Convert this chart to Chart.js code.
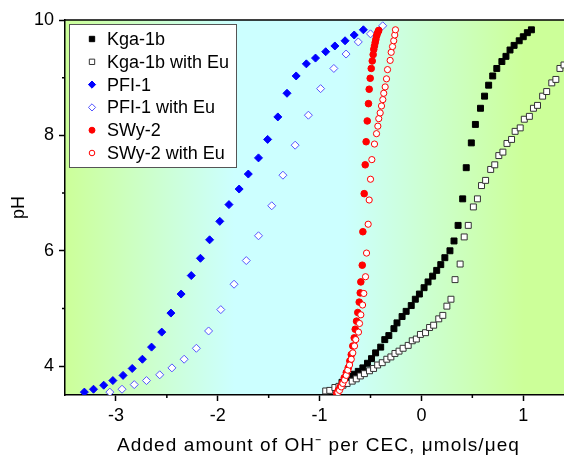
<!DOCTYPE html>
<html>
<head>
<meta charset="utf-8">
<script src="https://cdn.jsdelivr.net/npm/chart.js@4.4.1/dist/chart.umd.min.js"></script>
<style>
  html, body { margin: 0; padding: 0; background: #fff; }
</style>
</head>
<body>
<canvas id="c" width="564" height="459"></canvas>
<script>
// [added OH- per CEC, pH]
const kga1b = [[-0.78,3.72],[-0.74,3.77],[-0.70,3.82],[-0.66,3.86],[-0.62,3.91],[-0.575,3.97],[-0.53,4.05],[-0.49,4.13],[-0.45,4.23],[-0.40,4.33],[-0.36,4.46],[-0.32,4.53],[-0.27,4.65],[-0.24,4.75],[-0.19,4.86],[-0.15,4.95],[-0.10,5.05],[-0.06,5.16],[-0.02,5.25],[0.026,5.36],[0.065,5.46],[0.11,5.56],[0.15,5.66],[0.19,5.76],[0.23,5.88],[0.28,6.00],[0.32,6.17],[0.36,6.44],[0.405,6.90],[0.44,7.44],[0.49,7.87],[0.53,8.19],[0.58,8.47],[0.62,8.68],[0.66,8.87],[0.70,9.03],[0.74,9.16],[0.79,9.28],[0.83,9.37],[0.87,9.48],[0.91,9.56],[0.96,9.64],[1.00,9.71],[1.04,9.78],[1.08,9.83]];
const kga1bEu = [[-0.94,3.57],[-0.90,3.58],[-0.85,3.63],[-0.81,3.65],[-0.77,3.67],[-0.73,3.70],[-0.68,3.74],[-0.64,3.78],[-0.60,3.83],[-0.56,3.87],[-0.51,3.92],[-0.47,3.96],[-0.43,4.02],[-0.385,4.06],[-0.34,4.12],[-0.30,4.16],[-0.26,4.22],[-0.22,4.26],[-0.18,4.31],[-0.13,4.36],[-0.09,4.44],[-0.05,4.47],[-0.01,4.55],[0.04,4.58],[0.08,4.67],[0.12,4.71],[0.17,4.82],[0.21,4.88],[0.25,5.04],[0.29,5.16],[0.33,5.50],[0.38,5.77],[0.42,6.24],[0.46,6.44],[0.51,6.76],[0.55,6.90],[0.59,7.13],[0.63,7.22],[0.68,7.41],[0.72,7.49],[0.76,7.65],[0.80,7.71],[0.84,7.86],[0.885,7.93],[0.92,8.07],[0.97,8.13],[1.01,8.28],[1.06,8.33],[1.10,8.47],[1.14,8.52],[1.19,8.68],[1.23,8.76],[1.28,8.91],[1.32,8.97],[1.36,9.16],[1.40,9.22]];
const pfi1 = [[-3.31,3.55],[-3.22,3.60],[-3.12,3.67],[-3.03,3.75],[-2.93,3.84],[-2.84,3.96],[-2.74,4.12],[-2.65,4.33],[-2.55,4.59],[-2.46,4.92],[-2.36,5.25],[-2.26,5.57],[-2.17,5.87],[-2.08,6.19],[-1.98,6.51],[-1.89,6.80],[-1.79,7.07],[-1.70,7.33],[-1.60,7.61],[-1.51,7.93],[-1.41,8.32],[-1.32,8.73],[-1.23,9.03],[-1.13,9.24],[-1.04,9.34],[-0.94,9.45],[-0.85,9.55],[-0.75,9.64],[-0.66,9.74],[-0.57,9.83]];
const pfi1Eu = [[-3.06,3.55],[-2.94,3.60],[-2.82,3.68],[-2.70,3.75],[-2.57,3.85],[-2.45,3.97],[-2.33,4.12],[-2.21,4.31],[-2.09,4.61],[-1.97,4.98],[-1.84,5.42],[-1.72,5.83],[-1.60,6.26],[-1.47,6.78],[-1.36,7.31],[-1.24,7.83],[-1.11,8.35],[-0.99,8.81],[-0.86,9.16],[-0.74,9.41],[-0.62,9.62],[-0.50,9.76],[-0.38,9.90]];
const swy2 = [[-0.833,3.53],[-0.817,3.58],[-0.797,3.64],[-0.777,3.71],[-0.758,3.80],[-0.738,3.89],[-0.719,3.97],[-0.703,4.09],[-0.689,4.20],[-0.674,4.35],[-0.660,4.49],[-0.650,4.64],[-0.637,4.78],[-0.625,4.93],[-0.611,5.11],[-0.601,5.27],[-0.595,5.46],[-0.581,5.75],[-0.575,6.33],[-0.562,6.99],[-0.552,7.49],[-0.543,7.89],[-0.532,8.25],[-0.520,8.55],[-0.513,8.80],[-0.503,8.99],[-0.493,9.16],[-0.483,9.29],[-0.474,9.40],[-0.468,9.49],[-0.461,9.55],[-0.454,9.61],[-0.448,9.66],[-0.441,9.72],[-0.434,9.76],[-0.425,9.80],[-0.419,9.82]];
const swy2Eu = [[-0.821,3.54],[-0.804,3.58],[-0.787,3.64],[-0.772,3.70],[-0.755,3.76],[-0.738,3.84],[-0.723,3.93],[-0.706,4.02],[-0.689,4.12],[-0.674,4.23],[-0.657,4.35],[-0.645,4.46],[-0.618,4.59],[-0.608,4.74],[-0.595,4.89],[-0.578,5.06],[-0.566,5.26],[-0.549,5.55],[-0.539,5.96],[-0.523,6.46],[-0.513,6.88],[-0.500,7.24],[-0.487,7.58],[-0.461,7.85],[-0.441,8.03],[-0.428,8.16],[-0.419,8.29],[-0.405,8.39],[-0.392,8.51],[-0.379,8.62],[-0.370,8.73],[-0.356,8.84],[-0.343,8.98],[-0.333,9.14],[-0.307,9.30],[-0.297,9.44],[-0.284,9.54],[-0.272,9.64],[-0.262,9.74],[-0.255,9.83]];

const seriesNames = ['Kga-1b', 'Kga-1b with Eu', 'PFI-1', 'PFI-1 with Eu', 'SWy-2', 'SWy-2 with Eu'];
const xMajor = [-3, -2, -1, 0, 1];
const xMinor = [-2.5, -1.5, -0.5, 0.5];
const yMajor = [4, 6, 8, 10];
const yMinor = [5, 7, 9];
const xTitle = 'Added amount of OH⁻ per CEC, μmols/μeq';

const FONT = '"Liberation Sans", Arial, sans-serif';
Chart.defaults.font.family = FONT;
Chart.defaults.color = '#000';

const toPts = arr => arr.map(p => ({x: p[0], y: p[1]}));

function marker(ctx, style, x, y, r) {
    ctx.beginPath();
    if (style === 'rect') {
        const s = Math.SQRT1_2 * r;
        ctx.rect(x - s, y - s, 2 * s, 2 * s);
    } else if (style === 'rectRot') {
        ctx.moveTo(x - r, y);
        ctx.lineTo(x, y - r);
        ctx.lineTo(x + r, y);
        ctx.lineTo(x, y + r);
        ctx.closePath();
    } else {
        ctx.arc(x, y, r, 0, Math.PI * 2);
    }
    ctx.fill();
    ctx.stroke();
}

const bgPlugin = {
    id: 'bg',
    beforeDraw(chart) {
        const {ctx, chartArea: a} = chart;
        const g = ctx.createLinearGradient(a.left, 0, a.right, 0);
        g.addColorStop(0, '#ccff99');
        g.addColorStop(0.34, '#ccffff');
        g.addColorStop(0.56, '#ccffff');
        g.addColorStop(0.92, '#ccff99');
        g.addColorStop(1, '#ccff99');
        ctx.save();
        ctx.fillStyle = g;
        ctx.fillRect(a.left, a.top, a.right - a.left, a.bottom - a.top);
        ctx.restore();
    }
};

// minor ticks, top frame line, x title (letter-spaced) and the boxed legend
const extrasPlugin = {
    id: 'extras',
    afterDraw(chart) {
        const {ctx, chartArea: a, scales} = chart;
        ctx.save();
        ctx.strokeStyle = '#000';
        ctx.lineWidth = 1.5;
        ctx.beginPath();
        ctx.moveTo(a.left, a.top);
        ctx.lineTo(a.right, a.top);
        xMinor.forEach(v => {
            const px = scales.x.getPixelForValue(v);
            ctx.moveTo(px, a.bottom);
            ctx.lineTo(px, a.bottom + 3);
        });
        yMinor.forEach(v => {
            const py = scales.y.getPixelForValue(v);
            ctx.moveTo(a.left, py);
            ctx.lineTo(a.left - 3, py);
        });
        ctx.stroke();

        // axis title, a little spaced out like the original
        ctx.font = '19px ' + FONT;
        ctx.fillStyle = '#000';
        ctx.textBaseline = 'middle';
        ctx.textAlign = 'left';
        const w0 = ctx.measureText(xTitle).width;
        ctx.letterSpacing = Math.max(0, (403 - w0) / xTitle.length).toFixed(2) + 'px';
        const w1 = ctx.measureText(xTitle).width;
        ctx.fillText(xTitle, (a.left + a.right) / 2 + 4 - w1 / 2, 446);
        ctx.letterSpacing = '0px';

        const x0 = a.left + 4, y0 = a.top + 4, w = 167, h = 143;
        ctx.fillStyle = '#fff';
        ctx.fillRect(x0, y0, w, h);
        ctx.strokeStyle = '#555';
        ctx.lineWidth = 1;
        ctx.strokeRect(x0 + 0.5, y0 + 0.5, w, h);
        ctx.font = '18px ' + FONT;
        chart.data.datasets.forEach((ds, i) => {
            const cy = y0 + 15 + i * 22.8;
            ctx.fillStyle = ds.backgroundColor;
            ctx.strokeStyle = ds.borderColor;
            ctx.lineWidth = ds.borderWidth;
            marker(ctx, ds.pointStyle, x0 + 23, cy, ds.pointRadius * 0.9);
            ctx.fillStyle = '#000';
            ctx.fillText(ds.label, x0 + 38, cy + 1);
        });
        ctx.restore();
    }
};

function series(i, data, style, fill, border, r, order) {
    return {
        label: seriesNames[i],
        data: toPts(data),
        pointStyle: style,
        backgroundColor: fill,
        borderColor: border,
        borderWidth: 1,
        pointRadius: r,
        pointHoverRadius: r,
        showLine: false,
        order: order
    };
}

new Chart(document.getElementById('c'), {
    type: 'scatter',
    data: {
        datasets: [
            series(0, kga1b, 'rect', '#000', '#000', 4.2, 4),
            series(1, kga1bEu, 'rect', '#fff', '#333', 4.2, 3),
            series(2, pfi1, 'rectRot', '#0000ff', '#0000ff', 4, 6),
            series(3, pfi1Eu, 'rectRot', '#fff', '#5555ff', 4, 5),
            series(4, swy2, 'circle', '#ff0000', '#ff0000', 3.3, 2),
            series(5, swy2Eu, 'circle', '#fff', '#ff0000', 3.1, 1)
        ]
    },
    options: {
        responsive: false,
        animation: false,
        devicePixelRatio: 1,
        layout: { autoPadding: false, padding: { top: 20, right: 0, left: 0, bottom: 0 } },
        plugins: {
            legend: { display: false },
            tooltip: { enabled: false }
        },
        scales: {
            x: {
                type: 'linear',
                min: -3.5,
                max: 1.4,
                afterBuildTicks: s => { s.ticks = xMajor.map(v => ({value: v})); },
                afterFit: s => { s.height = 64; s.paddingLeft = 0; s.paddingRight = 0; },
                grid: { drawOnChartArea: false, drawTicks: true, tickLength: 6, color: '#000', tickWidth: 1.5 },
                border: { display: true, color: '#000', width: 1.5 },
                ticks: { color: '#000', font: { size: 18 }, padding: 4, maxRotation: 0, callback: v => String(v) },
                title: { display: false }
            },
            y: {
                type: 'linear',
                min: 3.5,
                max: 10,
                afterBuildTicks: s => { s.ticks = yMajor.map(v => ({value: v})); },
                afterFit: s => { s.width = 65; },
                grid: { drawOnChartArea: false, drawTicks: true, tickLength: 6, color: '#000', tickWidth: 1.5 },
                border: { display: true, color: '#000', width: 1.5 },
                ticks: { color: '#000', font: { size: 18 }, padding: 5, callback: v => String(v) },
                title: { display: true, text: 'pH', color: '#000', font: { size: 18 }, padding: { top: 8, bottom: 0 } }
            }
        }
    },
    plugins: [bgPlugin, extrasPlugin]
});
</script>
</body>
</html>
